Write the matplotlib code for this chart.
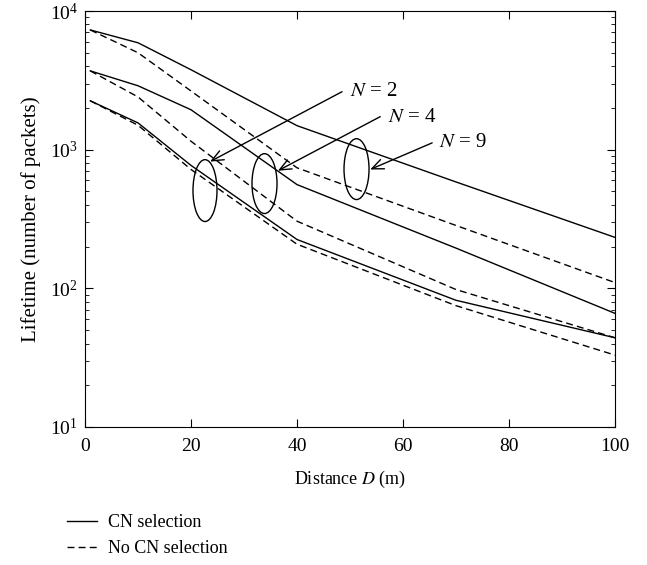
import numpy as np
import matplotlib
matplotlib.use("Agg")
import matplotlib.pyplot as plt
from matplotlib.lines import Line2D
from matplotlib.patches import Ellipse

plt.rcParams["font.family"] = ["Liberation Serif", "DejaVu Serif"]
plt.rcParams["mathtext.fontset"] = "stix"
plt.rcParams["font.size"] = 12

# distance (m) and lifetime values
distance = [1, 10, 20, 40, 70, 100]
n9_cn = [7300, 5900, 3770, 1490, 585, 233]
n9_nocn = [7300, 5000, 2650, 740, 284, 110]
n4_cn = [3700, 2890, 1940, 560, 195, 66]
n4_nocn = [3700, 2400, 1150, 305, 98, 44]
n2_cn = [2250, 1560, 770, 225, 82, 44]
n2_nocn = [2250, 1500, 720, 208, 75, 33]

labels = ["$N$ = 2", "$N$ = 4", "$N$ = 9"]

fig = plt.figure(figsize=(6.47, 5.65), dpi=100)
ax = fig.add_axes([85 / 647, 1 - 427 / 565, 530 / 647, 416 / 565])

dash = (5, 3)
for cn, nocn in [(n9_cn, n9_nocn), (n4_cn, n4_nocn), (n2_cn, n2_nocn)]:
    ax.plot(distance, cn, color="black", lw=1.0)
    ax.plot(distance, nocn, color="black", lw=1.0, dashes=dash)

ax.set_yscale("log")
ax.set_xlim(0, 100)
ax.set_ylim(10, 1e4)
ax.set_xticks([0, 20, 40, 60, 80, 100])
ax.tick_params(which="both", direction="in", top=True, right=True,
               labelsize=14)
ax.tick_params(axis="x", pad=8)
ax.tick_params(axis="y", pad=5)
ax.tick_params(which="major", length=6)
ax.tick_params(which="minor", length=3)
ax.set_xlabel("Distance $D$ (m)", labelpad=10, fontsize=13)
ax.set_ylabel("Lifetime (number of packets)", labelpad=6, fontsize=15)

# ellipses marking the groups (axes fraction)
ell = [(0.2264, 0.5683, 0.0453, 0.1487),
       (0.3387, 0.5851, 0.0472, 0.1439),
       (0.5123, 0.6199, 0.0472, 0.1463)]
for cx, cy, w, h in ell:
    ax.add_patch(Ellipse((cx, cy), w, h, transform=ax.transAxes,
                         fill=False, lw=1.0, color="black"))

# arrows and labels
tips = [(0.236, 0.638), (0.364, 0.616), (0.538, 0.619)]
starts = [(0.485, 0.806), (0.557, 0.746), (0.655, 0.683)]
text_pos = [(0.500, 0.806), (0.571, 0.745), (0.667, 0.683)]
for lab, tip, st, tp in zip(labels, tips, starts, text_pos):
    ax.annotate("", xy=tip, xytext=st, xycoords="axes fraction",
                textcoords="axes fraction",
                arrowprops=dict(arrowstyle="->,head_length=0.7,head_width=0.3",
                                lw=1.0, color="black", shrinkA=0, shrinkB=0))
    ax.text(tp[0], tp[1], lab, transform=ax.transAxes, ha="left",
            va="center", fontsize=15)

handles = [Line2D([], [], color="black", lw=1.0),
           Line2D([], [], color="black", lw=1.0, dashes=dash)]
fig.legend(handles, ["CN selection", "No CN selection"], loc="upper left",
           bbox_to_anchor=(67 / 647, 1 - 514 / 565), frameon=False,
           borderpad=0, borderaxespad=0, handlelength=1.65,
           handletextpad=0.6, labelspacing=0.5, fontsize=13)

fig.savefig("out.png", dpi=100)
